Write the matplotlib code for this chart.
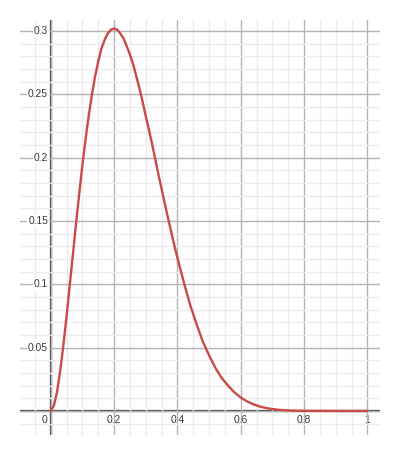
import numpy as np
import matplotlib
matplotlib.use("Agg")
from matplotlib import pyplot as plt

# values
p_vals = [0.0, 0.01, 0.02, 0.03, 0.04, 0.05, 0.06, 0.07, 0.08, 0.09,
          0.10, 0.11, 0.12, 0.13, 0.14, 0.15, 0.16, 0.17, 0.18, 0.19,
          0.20, 0.21, 0.22, 0.23, 0.24, 0.25, 0.26, 0.27, 0.28, 0.29,
          0.30, 0.31, 0.32, 0.33, 0.34, 0.35, 0.36, 0.37, 0.38, 0.39,
          0.40, 0.42, 0.44, 0.46, 0.48, 0.50, 0.52, 0.54, 0.56, 0.58,
          0.60, 0.62, 0.64, 0.66, 0.68, 0.70, 0.72, 0.74, 0.76, 0.78,
          0.80, 0.90, 1.0]
L_vals = [0.0, 0.0042, 0.015, 0.0317, 0.052, 0.0746, 0.099, 0.1234, 0.148, 0.1714,
          0.194, 0.2143, 0.233, 0.2496, 0.264, 0.2759, 0.286, 0.2929, 0.298, 0.301,
          0.302, 0.3011, 0.298, 0.2942, 0.288, 0.2816, 0.274, 0.2646, 0.255, 0.2444,
          0.233, 0.2222, 0.211, 0.199, 0.187, 0.1757, 0.164, 0.1529, 0.142, 0.1312,
          0.121, 0.102, 0.084, 0.069, 0.055, 0.044, 0.034, 0.026, 0.020, 0.0147,
          0.0106, 0.0075, 0.0052, 0.0035, 0.0023, 0.00145, 0.00088, 0.00051, 0.00029, 0.00015,
          0.00007, 0.0, 0.0]

x_ticks = [0.2, 0.4, 0.6, 0.8, 1.0]
x_labels = ["0.2", "0.4", "0.6", "0.8", "1"]
y_ticks = [0.05, 0.1, 0.15, 0.2, 0.25, 0.3]
y_labels = ["0.05", "0.1", "0.15", "0.2", "0.25", "0.3"]

fig = plt.figure(figsize=(4.0, 4.55), dpi=100)
ax = fig.add_axes([0.05, 0.044, 0.90, 0.912])
ax.set_xlim(-0.097, 1.04)
ax.set_ylim(-0.019, 0.3087)

for s in ax.spines.values():
    s.set_visible(False)

ax.set_xticks([0] + x_ticks)
ax.set_yticks([0] + y_ticks)
ax.set_xticks(np.arange(-0.05, 1.01, 0.05), minor=True)
ax.set_yticks(np.arange(-0.01, 0.301, 0.01), minor=True)
ax.tick_params(which="both", length=0, labelbottom=False, labelleft=False)
ax.set_axisbelow(False)
ax.grid(which="minor", color="#ececec", linewidth=1.0, zorder=1)
ax.grid(which="major", color="#b4b4b4", linewidth=1.0, zorder=1.5)

ax.axhline(0, color="#444444", linewidth=1.6, zorder=2)
ax.axvline(0, color="#444444", linewidth=1.6, zorder=2)

ax.plot(p_vals, L_vals, color="#c94a46", linewidth=1.7, zorder=4,
        solid_capstyle="round", solid_joinstyle="round")

fnt = dict(family=["Liberation Sans", "DejaVu Sans"], fontsize=7.4, color="#3a3a3a")
for t, lab in zip(y_ticks, y_labels):
    ax.text(-0.0085, t, lab, ha="right", va="center", zorder=3,
            bbox=dict(fc="white", ec="none", pad=0.6), **fnt)
for t, lab in zip(x_ticks, x_labels):
    ax.text(t, -0.0071, lab, ha="center", va="center", zorder=0.5, **fnt)
ax.text(-0.021, -0.0071, "0", ha="center", va="center", zorder=0.5, **fnt)

fig.savefig("out.png", dpi=100, facecolor="white")
